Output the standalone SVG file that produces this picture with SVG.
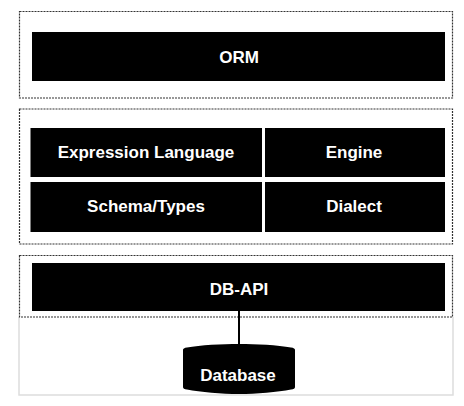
<svg xmlns="http://www.w3.org/2000/svg" width="464" height="406" viewBox="0 0 464 406">
<style>
.b{fill:#000}
.t{fill:#fff;font-family:"Liberation Sans",Arial,sans-serif;font-weight:700;font-size:17px;text-anchor:middle}
.g{fill:none;stroke:#333;stroke-width:1.2;stroke-dasharray:2 1}
.c{stroke:#000;stroke-width:2;fill:none}
</style>
<rect width="464" height="406" fill="#fff"/>
<path d="M19 317V395H453V317" fill="none" stroke="#ddd" stroke-width="1.5"/>
<g id="layer-orm"><rect class="g" x="19.500" y="11.500" width="433" height="86.500"/></g>
<g id="layer-core"><rect class="g" x="19.500" y="109" width="433" height="135"/></g>
<g id="layer-dbapi"><rect class="g" x="19.500" y="255.500" width="433" height="61.500"/></g>
<g id="connectors"><path class="c" d="M239 311V346"/></g>
<g id="orm"><rect class="b" x="32" y="32" width="413" height="49"/><text class="t" x="239" y="63">ORM</text></g>
<g id="expression-language"><rect class="b" x="30.500" y="128" width="231.500" height="49"/><text class="t" x="146" y="158">Expression Language</text></g>
<g id="engine"><rect class="b" x="265" y="128" width="180" height="49"/><text class="t" x="354" y="158">Engine</text></g>
<g id="schema-types"><rect class="b" x="30.500" y="182" width="231.500" height="50"/><text class="t" x="146" y="212">Schema/Types</text></g>
<g id="dialect"><rect class="b" x="265" y="182" width="180" height="50"/><text class="t" x="354" y="212">Dialect</text></g>
<g id="db-api"><rect class="b" x="32" y="263" width="413" height="48"/><text class="t" x="239" y="295">DB-API</text></g>
<g id="database"><path class="b" d="M183 350Q183 348 187 347.500C200 345 222 344 239 344C256 344 278 345 291 347.500Q295 348 295 350V387Q295 389 291 389.500C278 392 256 394 239 394C222 394 200 392 187 389.500Q183 389 183 387Z"/><text class="t" x="238" y="381">Database</text></g>
</svg>
